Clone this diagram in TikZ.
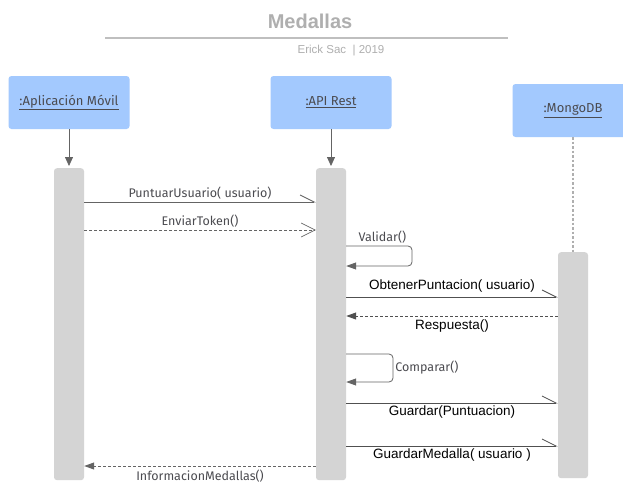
\documentclass[tikz,border=0pt]{standalone}
\usepackage{fontspec}
\setmainfont{Fira Sans}
\newfontfamily\arialfont{Liberation Sans}
\usepackage{tikz}
\usetikzlibrary{arrows.meta,positioning,calc}
\definecolor{seqblue}{RGB}{163,201,254}
\definecolor{seqbar}{RGB}{212,212,212}
\definecolor{seqline}{RGB}{100,100,100}
\definecolor{seqtext}{RGB}{75,75,80}
\definecolor{seqtitle}{RGB}{175,175,175}

\begin{document}
\begin{tikzpicture}[x=1pt, y=-1pt,
    lifebox/.style={rectangle, fill=seqblue, rounded corners=3pt, minimum width=121pt,
        minimum height=53pt, text=seqtext, font=\fontsize{13}{15}\selectfont},
    actbar/.style={rectangle, fill=seqbar, rounded corners=3pt, minimum width=30pt,
        anchor=north, inner sep=0pt},
    lifearrow/.style={seqline, line width=0.8pt, -{Triangle[length=9pt, width=8pt]}, shorten >=2pt},
    callmsg/.style={seqline, line width=0.8pt, -{Straight Barb[harpoon, length=14pt, width=14pt]}},
    tokenmsg/.style={seqline, line width=0.6pt, dash pattern=on 3pt off 2pt,
        -{Straight Barb[length=14pt, width=14pt]}},
    replymsg/.style={seqline, line width=0.9pt, dash pattern=on 3pt off 2pt,
        -{Triangle[length=10pt, width=7pt]}},
    selfmsg/.style={seqline, line width=0.8pt, rounded corners=4pt, -{Triangle[length=10pt, width=7pt]}},
    msglabel/.style={text=seqtext, font=\fontsize{12.5}{14}\selectfont, inner sep=2pt},
    dblabel/.style={text=black, font=\arialfont\fontsize{13.5}{15}\selectfont, inner sep=2pt}]

    % Background and frame
    \useasboundingbox (0,0) rectangle (623,487);
    \fill[white] (0,0) rectangle (623,487);

    % Title
    \node[text=seqtitle, font=\arialfont\bfseries\fontsize{20}{22}\selectfont] (title) at (310,21) {Medallas};
    \draw[seqtitle!80, line width=1.2pt] (105,38) -- (508,38);
    \node[text=seqtitle, font=\arialfont\fontsize{11.5}{13}\selectfont] (author) at (341,51) {Erick Sac~ | 2019};

    % Lifelines
    \node[lifebox] (app) at (69,102.5) {\underline{:Aplicación Móvil}};
    \node[lifebox] (api) at (331,102.5) {\underline{:API Rest}};
    \node[lifebox] (mongo) at (573,110.5) {\underline{:MongoDB}};

    % Activation bars
    \node[actbar, minimum height=312pt] (appbar) at (69,168) {};
    \node[actbar, minimum height=312pt] (apibar) at (331,168) {};
    \node[actbar, minimum height=226pt] (mongobar) at (573,252) {};

    \draw[lifearrow] (app) -- (appbar);
    \draw[lifearrow] (api) -- (apibar);
    \draw[seqtitle, line width=1.3pt, dash pattern=on 2.5pt off 2pt] (mongo) -- (mongobar);

    % Messages
    \draw[callmsg] (appbar.east |- 0,202) -- node[msglabel, above] (puntuar) {PuntuarUsuario( usuario)} (apibar.west |- 0,202);
    \draw[tokenmsg] (appbar.east |- 0,230) -- node[msglabel, above] (token) {EnviarToken()} (apibar.west |- 0,230);
    \draw[selfmsg] (apibar.east |- 0,246) -- node[msglabel, above, pos=0.55] (validar) {Validar()} (412,246) -- (412,266) -- (apibar.east |- 0,266);
    \draw[callmsg, seqline!80!black] (apibar.east |- 0,297) -- node[dblabel, above, yshift=2pt] (obtener) {ObtenerPuntacion( usuario)} (mongobar.west |- 0,297);
    \draw[replymsg, seqline!80!black] (mongobar.west |- 0,316) -- node[dblabel, below, yshift=-1pt] (respuesta) {Respuesta()} (apibar.east |- 0,316);
    \draw[selfmsg] (apibar.east |- 0,354) -- (393,354) -- node[msglabel, right, pos=0.5] (comparar) {Comparar()} (393,382) -- (apibar.east |- 0,382);
    \draw[callmsg, seqline!80!black] (apibar.east |- 0,403) -- node[dblabel, below] (guardar) {Guardar(Puntuacion)} (mongobar.west |- 0,403);
    \draw[callmsg, seqline!80!black] (apibar.east |- 0,446) -- node[dblabel, below] (medalla) {GuardarMedalla( usuario )} (mongobar.west |- 0,446);
    \draw[replymsg] (apibar.west |- 0,466) -- node[msglabel, below, yshift=-1pt] (info) {InformacionMedallas()} (appbar.east |- 0,466);
\end{tikzpicture}
\end{document}
